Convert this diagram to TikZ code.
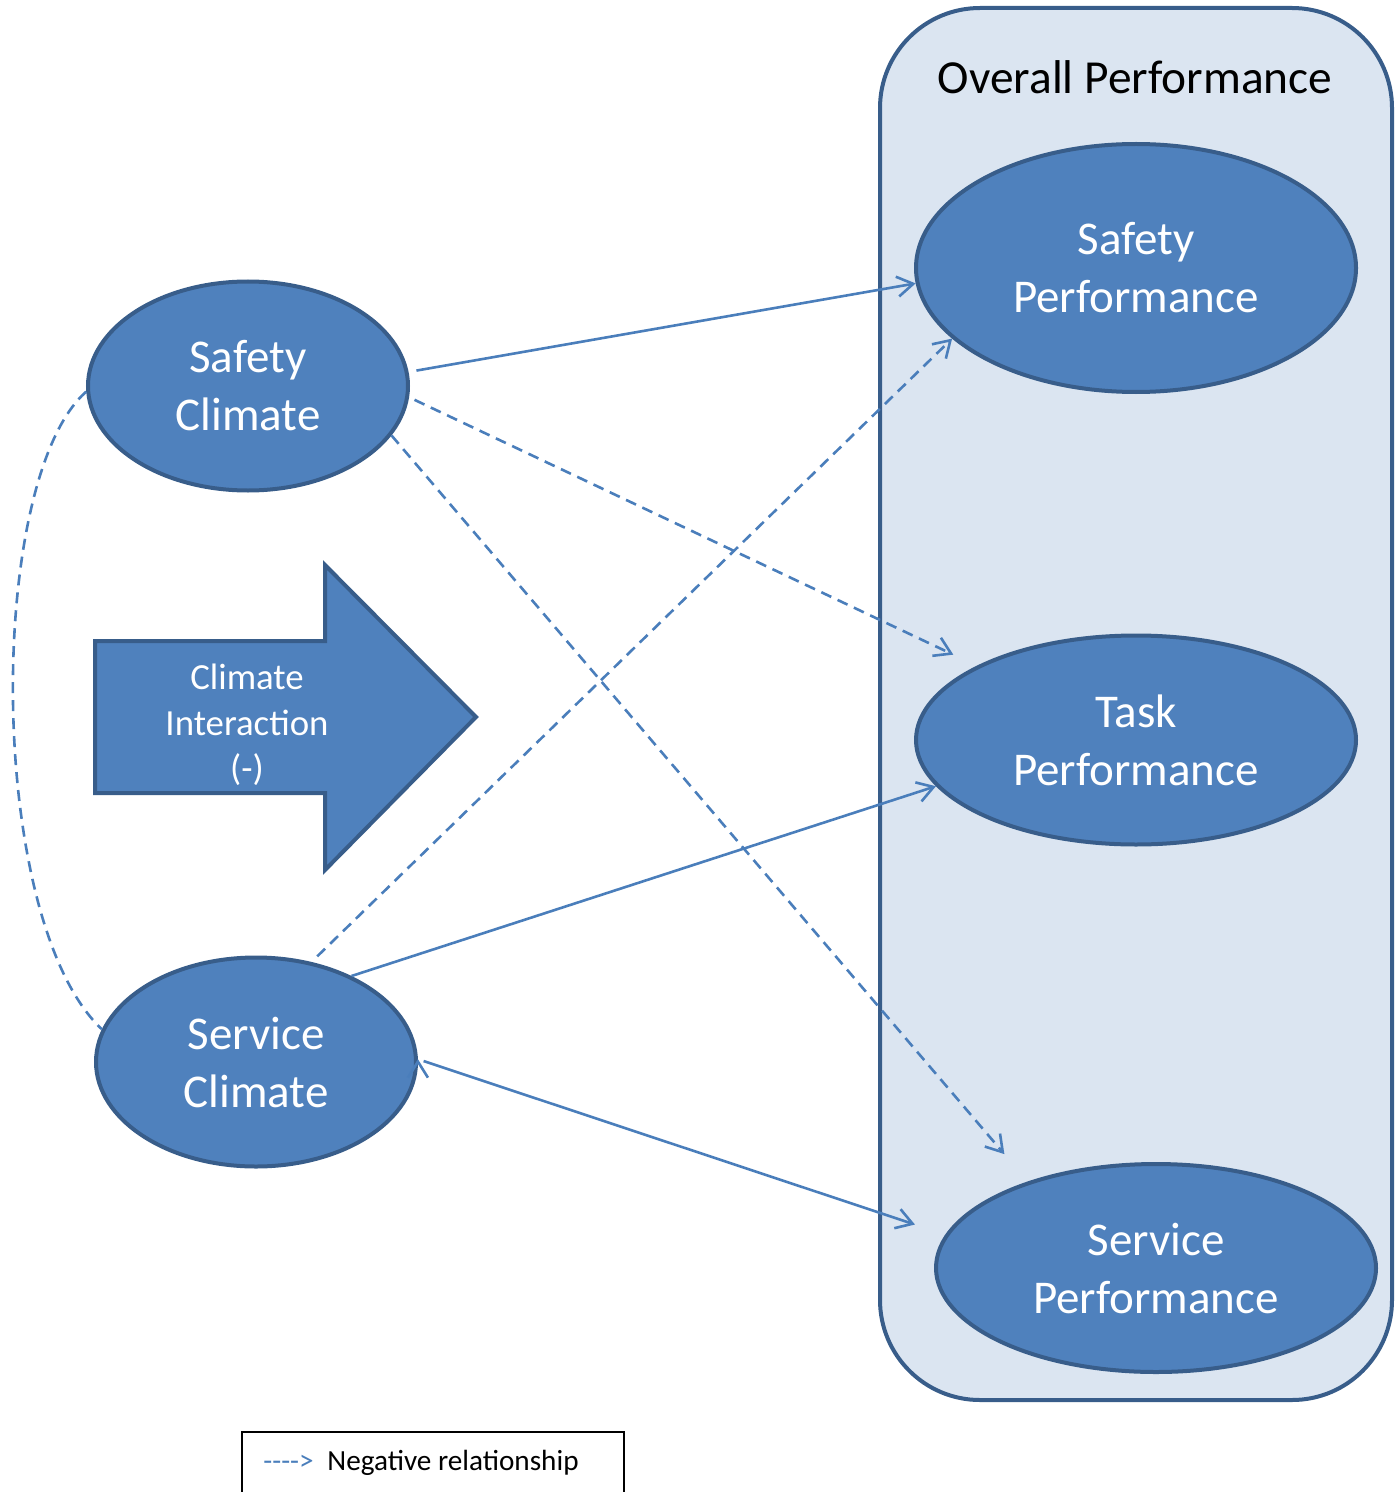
\documentclass[tikz,border=0pt]{standalone}
\usepackage{fontspec}
\setmainfont{Carlito}
\usetikzlibrary{arrows.meta,shapes.geometric}
\definecolor{ellfill}{HTML}{4F81BD}
\definecolor{ellline}{HTML}{385D8A}
\definecolor{boxfill}{HTML}{DBE5F1}
\definecolor{linkcol}{HTML}{4A7EBB}

\begin{document}
\begin{tikzpicture}[x=0.5pt, y=-0.5pt,
    main/.style = {draw=ellline, fill=ellfill, ellipse, line width=2pt, inner sep=0pt,
                   text=white, align=center, font=\fontsize{23.5}{29}\selectfont},
    link/.style = {draw=linkcol, line width=1.3pt},
    neg/.style = {dash pattern=on 5.5pt off 3.5pt},
    >={Straight Barb[length=8pt,width=10pt]} ]
    \useasboundingbox (0, 0) rectangle (1394, 1492);

    \draw[draw=ellline, fill=boxfill, line width=2pt, rounded corners=50pt] (880, 8) rectangle (1392, 1400);
    \node at (1135, 77) [font=\fontsize{23.7}{29}\selectfont] (op) {Overall Performance};

    \node at (248, 386) [main, minimum width=160pt, minimum height=104.5pt] (sc) {Safety\\Climate};
    \node at (256, 1062) [main, minimum width=160pt, minimum height=104.5pt] (svc) {Service\\Climate};
    \node at (1136, 268) [main, minimum width=220pt, minimum height=124pt] (sp) {Safety\\Performance};
    \node at (1136, 740) [main, minimum width=220pt, minimum height=104.5pt] (tp) {Task\\Performance};
    \node at (1156, 1268) [main, minimum width=220pt, minimum height=104pt] (svp) {Service\\Performance};

    \draw[draw=ellline, fill=ellfill, line width=2pt]
        (95, 641) -- (325, 641) -- (325, 565) -- (476, 717) -- (325, 870) -- (325, 793) -- (95, 793) -- cycle;
    \node at (247, 725) [text=white, align=center, font=\fontsize{18.4}{22.75}\selectfont] (ci) {Climate\\Interaction\\(-)};

    \draw[link, neg] (sc.182) .. controls (-14, 480) and (-14, 920) .. (svc.168);

    \path[->, link]
        (sc.5) edge [shorten <=4pt] (sp.184)
        (sc.356) edge [neg, shorten <=3pt, shorten >=13pt] (tp.155)
        (sc.341) edge [neg, shorten >=18pt] (svp.146)
        (svc.61) edge [neg, shorten <=4pt] (sp.201)
        (svc.42) edge (tp.193)
        (svc.1) edge [shorten <=3pt, shorten >=16pt] (svp.171);

    \draw[black, line width=1pt] (242, 1432) rectangle (624, 1520);
    \node at (263, 1463) [anchor=west, inner sep=0pt, text=linkcol, font=\fontsize{14.6}{18}\selectfont] (legsym) {{-}{-}{-}{-}>};
    \node at (327, 1463) [anchor=west, inner sep=0pt, font=\fontsize{14.6}{18}\selectfont] (legtxt) {Negative relationship};
\end{tikzpicture}
\end{document}
